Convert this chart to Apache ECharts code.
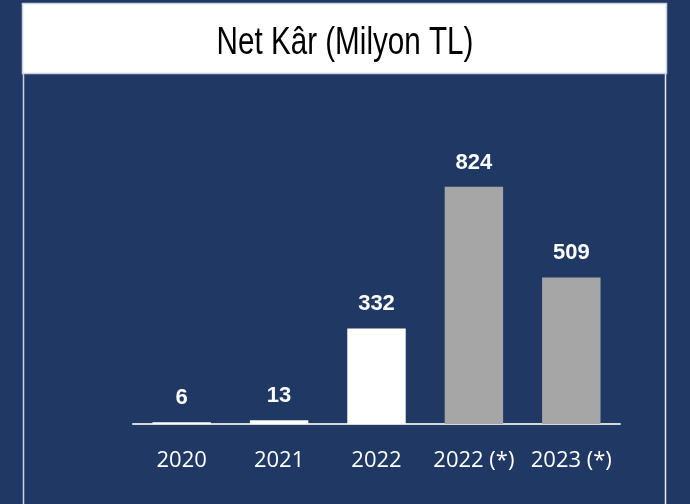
<!DOCTYPE html>
<html><head><meta charset="utf-8">
<script src="https://cdn.jsdelivr.net/npm/echarts@6/dist/echarts.min.js"></script>
<style>html,body{margin:0;padding:0;background:#203864;}#c{width:690px;height:504px;}</style>
</head><body><div id="c"></div>
<script>
const categories = ['2020', '2021', '2022', '2022 (*)', '2023 (*)'];
const values = [6, 13, 332, 824, 509];
const barColors = ['#ffffff', '#ffffff', '#ffffff', '#a6a6a6', '#a6a6a6'];
const titleText = 'Net Kâr (Milyon TL)';

const chart = echarts.init(document.getElementById('c'), null, {renderer: 'canvas'});
chart.setOption({
  backgroundColor: '#203864',
  animation: false,
  graphic: [
    {type: 'line', shape: {x1: 23.5, y1: 73, x2: 23.5, y2: 504}, style: {stroke: '#c9d1e3', lineWidth: 1.5}, z: 1},
    {type: 'line', shape: {x1: 665.5, y1: 73, x2: 665.5, y2: 504}, style: {stroke: '#e6eaf2', lineWidth: 1.5}, z: 1},
    {type: 'rect', shape: {x: 22.5, y: 3.5, width: 644, height: 70}, style: {fill: '#ffffff', stroke: '#c9d1e3', lineWidth: 1.5}, z: 2},
    {type: 'text', x: 345, y: 43, scaleX: 0.76, scaleY: 1,
     style: {text: titleText, fill: '#000000', font: '39px "Liberation Sans", Arial', textAlign: 'center', textVerticalAlign: 'middle'}, z: 3}
  ],
  grid: {left: 133, right: 70, top: 136, bottom: 80},
  xAxis: {
    type: 'category',
    data: categories,
    axisLine: {lineStyle: {color: '#d9d9d9', width: 2}},
    axisTick: {show: false},
    axisLabel: {interval: 0, color: '#ffffff', fontFamily: 'Open Sans', fontSize: 22, margin: 26}
  },
  yAxis: {
    type: 'value', min: 0, max: 1000,
    show: false,
    splitLine: {show: false}
  },
  series: [{
    type: 'bar',
    data: values.map((v, i) => ({value: v, itemStyle: {color: barColors[i]}})),
    barCategoryGap: '40%',
    label: {
      show: true, position: 'top', distance: 13,
      color: '#ffffff', fontFamily: 'Liberation Sans, Arial', fontWeight: 'bold', fontSize: 22
    }
  }]
});
</script></body></html>
